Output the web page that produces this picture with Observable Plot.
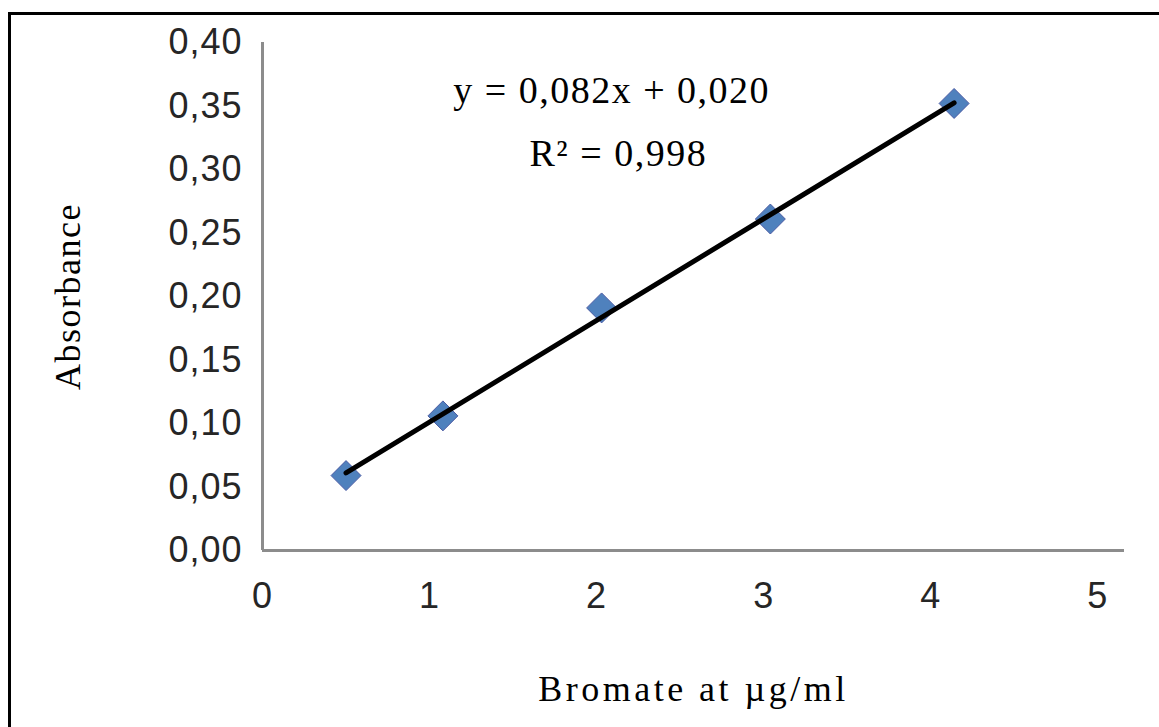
<!DOCTYPE html>
<html><head><meta charset="utf-8">
<script src="https://cdn.jsdelivr.net/npm/d3@7"></script>
<script src="https://cdn.jsdelivr.net/npm/@observablehq/plot@0.6"></script>
<style>
html,body{margin:0;padding:0;background:#fff;}
#wrap{position:relative;width:1159px;height:727px;overflow:hidden;}
#frame{position:absolute;left:8px;top:12px;right:-10px;bottom:-10px;border-left:3px solid #000;border-top:3px solid #000;pointer-events:none;}
#chart svg{display:block;}
g[aria-label="x-axis tick label"], g[aria-label="y-axis tick label"]{font-family:"Liberation Sans",Arial,sans-serif;font-size:36px;fill:#262626;letter-spacing:1px;}
g[aria-label="x-axis label"], g[aria-label="y-axis label"]{font-family:"Liberation Serif","Times New Roman",serif;font-size:36px;fill:#000;}
g[aria-label="x-axis label"]{letter-spacing:3.5px;}
g[aria-label="y-axis label"]{letter-spacing:1.5px;}
</style></head><body>
<div id="wrap"><div id="chart"></div><div id="frame"></div></div>
<script>
// Data
const concentration = [0.50, 1.08, 2.03, 3.04, 4.14];   // Bromate at µg/ml
const absorbance    = [0.059, 0.106, 0.191, 0.261, 0.352];
const xTicks = [0, 1, 2, 3, 4, 5];
const yTicks = [0, 0.05, 0.10, 0.15, 0.20, 0.25, 0.30, 0.35, 0.40];
const equationLines = ["y = 0,082x + 0,020", "R² = 0,998"];
const equationX = [2.09, 2.13];
const equationY = [0.362, 0.312];
const xLabel = "Bromate at µg/ml";
const yLabel = "Absorbance";

const points = concentration.map((x, i) => ({x, y: absorbance[i]}));
const eq = equationLines.map((t, i) => ({t, x: equationX[i], y: equationY[i]}));
const comma = f => v => f(v).replace(".", ",");

const chart = Plot.plot({
  width: 1159,
  height: 727,
  marginLeft: 262,
  marginRight: 35,
  marginTop: 42,
  marginBottom: 177,
  style: {background: "white", color: "#000", fontFamily: "Liberation Sans"},
  x: {domain: [0, 5.16]},
  y: {domain: [0, 0.40]},
  marks: [
    Plot.axisX({ticks: xTicks, tickSize: 0, tickPadding: 32, fontSize: 36,
      tickFormat: d3.format("d"), label: xLabel, labelArrow: "none", labelAnchor: "center", labelOffset: 150}),
    Plot.axisY({ticks: yTicks, tickSize: 0, tickPadding: 20, fontSize: 36,
      tickFormat: comma(d3.format(".2f")), label: yLabel, labelArrow: "none", labelAnchor: "center", labelOffset: 208}),
    Plot.ruleY([0], {stroke: "#8c8c8c", strokeWidth: 3}),
    Plot.ruleX([0], {stroke: "#8c8c8c", strokeWidth: 3}),
    Plot.dot(points, {x: "x", y: "y", symbol: "diamond2", r: 13.5, fill: "#4F81BD", stroke: "#4a5aa3", strokeWidth: 1}),
    Plot.linearRegressionY(points, {x: "x", y: "y", stroke: "#000", strokeWidth: 5, ci: 0}),
    Plot.text(eq, {x: "x", y: "y", text: "t", fontFamily: "Liberation Serif", fontSize: 38,
      textAnchor: "middle", lineAnchor: "middle", fill: "#000"})
  ]
});
document.getElementById("chart").appendChild(chart);
// remove any direction arrows from the axis labels (older Plot versions)
d3.select(chart).selectAll('g[aria-label="x-axis label"] text, g[aria-label="y-axis label"] text')
  .each(function() { const s = d3.select(this); s.text(s.text().replace(/\s*[→←↑↓]\s*/g, "").trim()); });
// slight letter spacing for the equation text
d3.select(chart).selectAll('g[aria-label="text"] text').style("letter-spacing", "1.5px");
</script>
</body></html>
